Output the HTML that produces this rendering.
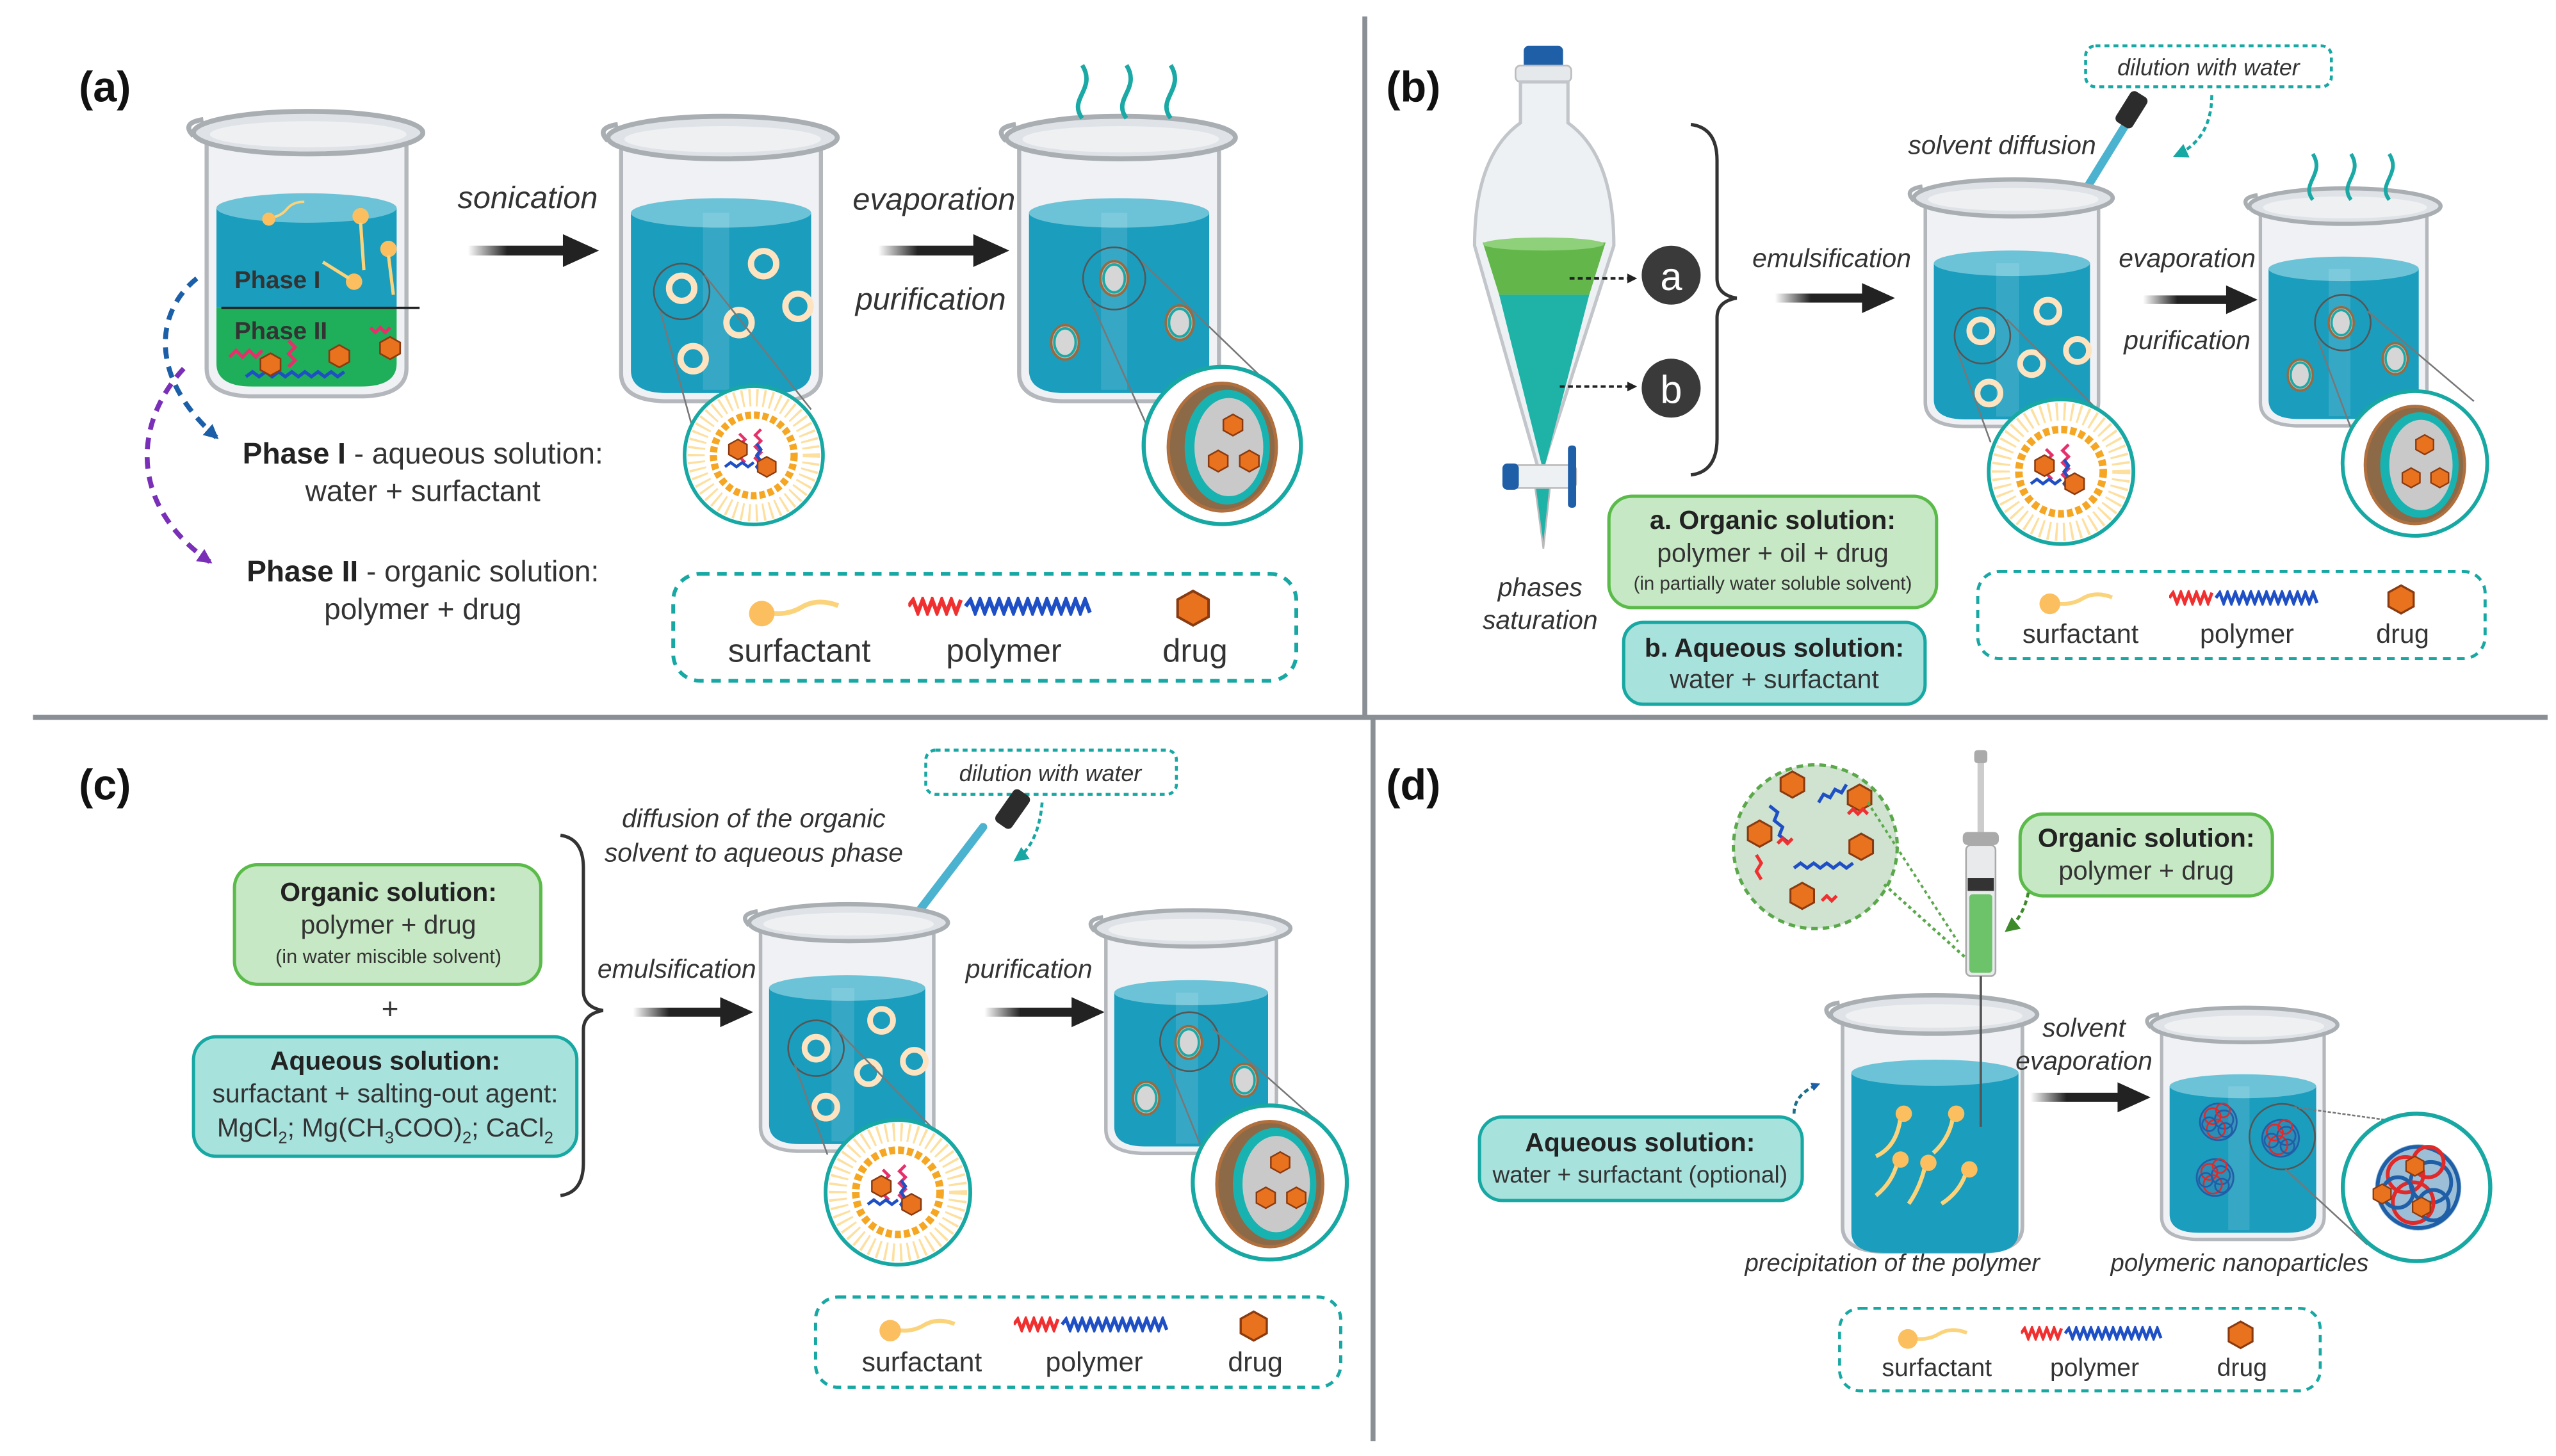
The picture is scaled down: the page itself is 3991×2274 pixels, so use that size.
<!DOCTYPE html>
<html><head><meta charset="utf-8"><style>
html,body{margin:0;padding:0;background:#fff;}
svg{display:block;}
text{font-family:"Liberation Sans",sans-serif;fill:#333;}
.it{font-style:italic;}
.lb{font-weight:bold;font-size:26px;fill:#111;}
</style></head><body>
<svg width="3991" height="2274" viewBox="0 0 1560 889" xmlns="http://www.w3.org/2000/svg">
<defs>
<linearGradient id="arr" x1="0" x2="1"><stop offset="0" stop-color="#222" stop-opacity="0"/><stop offset="0.4" stop-color="#222"/><stop offset="1" stop-color="#222"/></linearGradient>
<symbol id="beakerE" viewBox="0 0 150 180">
<path d="M14 22 L14 160 Q14 176 40 177 L110 177 Q136 176 136 160 L136 22 Z" fill="#e4e8ec" fill-opacity="0.6" stroke="#b4b8bc" stroke-width="2.5"/>
<ellipse cx="76" cy="16" rx="70" ry="13" fill="#dfe3e7" stroke="#a9aeb3" stroke-width="3"/>
<path d="M6 18 Q-2 10 12 8" fill="none" stroke="#a9aeb3" stroke-width="3"/>
<ellipse cx="76" cy="17" rx="60" ry="8" fill="#eef0f2"/>
</symbol>
<symbol id="beaker" viewBox="0 0 150 180">
<use href="#beakerE" width="150" height="180"/>
<path d="M20 62 L20 158 Q20 172 42 172 L108 172 Q130 172 130 158 L130 62 Z" fill="#1b9dbd"/>
<ellipse cx="75" cy="62" rx="55" ry="9" fill="#6cc3d8"/>
<rect x="64" y="62" width="16" height="108" fill="#fff" fill-opacity="0.12"/>
</symbol>
<symbol id="ring" viewBox="0 0 20 20"><circle cx="10" cy="10" r="7" fill="none" stroke="#fde3c0" stroke-width="3.5"/></symbol>
<symbol id="caps" viewBox="0 0 20 24"><ellipse cx="10" cy="12" rx="8.5" ry="10.5" fill="#b7b7b7" stroke="#9a6a3e" stroke-width="1.5"/><ellipse cx="10" cy="12" rx="6.5" ry="8.5" fill="#d6d6d6" stroke="#1aa9a5" stroke-width="1.5"/></symbol>
<symbol id="hex" viewBox="0 0 20 22"><polygon points="10,1 19,6 19,16 10,21 1,16 1,6" fill="#e8721e" stroke="#8a3a10" stroke-width="1.5"/></symbol>
<symbol id="micelle" viewBox="0 0 100 100">
<circle cx="50" cy="50" r="48" fill="#fff" stroke="#17a8a3" stroke-width="2.5"/>
<circle cx="50" cy="50" r="40" fill="none" stroke="#fde0a0" stroke-width="12" stroke-dasharray="1.5 3.5"/>
<circle cx="50" cy="50" r="28" fill="none" stroke="#f5a623" stroke-width="5" stroke-dasharray="4 2"/>
<path d="M40 35 l4 4 -4 4 4 4 -4 4 4 4 M55 32 l-4 4 4 4 -4 4 4 4 -4 4 4 4" fill="none" stroke="#e5306a" stroke-width="2"/>
<path d="M30 58 l4 -3 4 3 4 -3 4 3 4 -3 M52 42 l3 4 -3 4 3 4 -3 4 3 4" fill="none" stroke="#1f4fc4" stroke-width="2"/>
<use href="#hex" x="32" y="38" width="14" height="16"/><use href="#hex" x="52" y="50" width="14" height="16"/>
</symbol>
<symbol id="capsZ" viewBox="0 0 100 100">
<circle cx="50" cy="50" r="48" fill="#fff" stroke="#17a8a3" stroke-width="2.5"/>
<ellipse cx="50" cy="51" rx="33" ry="39" fill="#8c6a48" stroke="#b06f3c" stroke-width="2"/>
<ellipse cx="53" cy="51" rx="26" ry="35" fill="#18b3b0"/>
<ellipse cx="54" cy="51" rx="21" ry="30" fill="#c9c9c9"/>
<use href="#hex" x="50" y="30" width="13" height="15"/><use href="#hex" x="41" y="52" width="13" height="15"/><use href="#hex" x="60" y="52" width="13" height="15"/>
</symbol>
<symbol id="surf" viewBox="0 0 60 24"><path d="M12 12 Q25 15 35 9 T58 8" fill="none" stroke="#fbd37a" stroke-width="3"/><circle cx="10" cy="13" r="8" fill="#fbbf5f"/></symbol>
<symbol id="poly" viewBox="0 0 120 12"><path d="M0 6 l3 -4 3 8 3 -8 3 8 3 -8 3 8 3 -8 3 8 3 -8 3 8 3 -8" fill="none" stroke="#f03030" stroke-width="2.5"/><path d="M36 6 l3 -4 3 8 3 -8 3 8 3 -8 3 8 3 -8 3 8 3 -8 3 8 3 -8 3 8 3 -8 3 8 3 -8 3 8 3 -8 3 8 3 -8 3 8 3 -8 3 8 3 -8 3 8 3 -8 3 8" fill="none" stroke="#1f4fc4" stroke-width="2.5"/></symbol>
<symbol id="steam" viewBox="0 0 90 40"><path d="M15 38 C5 25 25 18 15 2 M45 38 C35 25 55 18 45 2 M75 38 C65 25 85 18 75 2" fill="none" stroke="#1aa9a5" stroke-width="3"/></symbol>
<symbol id="nano" viewBox="0 0 40 40"><circle cx="20" cy="20" r="17" fill="#3a7fb0" fill-opacity="0.5"/><g fill="none" stroke-width="1.5"><circle cx="15" cy="15" r="7" stroke="#e02a2a"/><circle cx="25" cy="18" r="8" stroke="#1f5fa8"/><circle cx="18" cy="26" r="8" stroke="#e02a2a"/><circle cx="26" cy="27" r="6" stroke="#1f5fa8"/><circle cx="20" cy="20" r="16" stroke="#1f5fa8"/><circle cx="12" cy="22" r="6" stroke="#1f5fa8"/><circle cx="24" cy="10" r="6" stroke="#e02a2a"/></g></symbol>
<symbol id="legend" viewBox="0 0 330 60">
<rect x="2" y="2" width="326" height="56" rx="14" fill="none" stroke="#17a8a3" stroke-width="2" stroke-dasharray="5 4"/>
<use href="#surf" x="40" y="12" width="50" height="20"/>
<use href="#poly" x="125" y="14" width="100" height="10"/>
<use href="#hex" x="265" y="10" width="18" height="20"/>
<text x="68" y="48" font-size="17" text-anchor="middle">surfactant</text>
<text x="175" y="48" font-size="17" text-anchor="middle">polymer</text>
<text x="275" y="48" font-size="17" text-anchor="middle">drug</text>
</symbol>
<marker id="ah" viewBox="0 0 10 10" refX="8" refY="5" markerWidth="4" markerHeight="4" orient="auto"><path d="M0 0 L10 5 L0 10 Z" fill="#222"/></marker>
<marker id="ahT" viewBox="0 0 10 10" refX="8" refY="5" markerWidth="5" markerHeight="5" orient="auto"><path d="M0 0 L10 5 L0 10 Z" fill="#17a8a3"/></marker>
<marker id="ahB" viewBox="0 0 10 10" refX="8" refY="5" markerWidth="3" markerHeight="3" orient="auto"><path d="M0 0 L10 5 L0 10 Z" fill="#1b5fa8"/></marker>
<marker id="ahP" viewBox="0 0 10 10" refX="8" refY="5" markerWidth="3" markerHeight="3" orient="auto"><path d="M0 0 L10 5 L0 10 Z" fill="#7a2fb8"/></marker>
<marker id="ahG" viewBox="0 0 10 10" refX="8" refY="5" markerWidth="5" markerHeight="5" orient="auto"><path d="M0 0 L10 5 L0 10 Z" fill="#3d8a2a"/></marker>
<symbol id="bigarrow" viewBox="0 0 80 24"><rect x="0" y="9" width="60" height="6" fill="url(#arr)"/><polygon points="58,2 80,12 58,22" fill="#222"/></symbol>
</defs>

<rect width="1560" height="889" fill="#fff"/>
<line x1="20" y1="438" x2="1555" y2="438" stroke="#8a8f96" stroke-width="3"/>
<line x1="833" y1="10" x2="833" y2="438" stroke="#8a8f96" stroke-width="3"/>
<line x1="838" y1="438" x2="838" y2="880" stroke="#8a8f96" stroke-width="3"/>

<!-- (a) -->
<text x="48" y="62" class="lb">(a)</text>
<use href="#beakerE" x="112" y="65" width="150" height="180"/>
<path d="M132 127 L132 188 L242 188 L242 127 Z" fill="#1b9dbd"/>
<ellipse cx="187" cy="127" rx="55" ry="9" fill="#6cc3d8"/>
<path d="M132 188 L132 222 Q132 236 154 236 L220 236 Q242 236 242 222 L242 188 Z" fill="#1fae5a"/>
<line x1="135" y1="188" x2="256" y2="188" stroke="#222" stroke-width="1.5"/>
<text x="143" y="176" font-size="15" font-weight="bold" fill="#111">Phase I</text>
<text x="143" y="207" font-size="15" font-weight="bold" fill="#111">Phase II</text>
<use href="#surf" x="158" y="124" width="30" height="14" transform="rotate(-20 170 130)"/>
<circle cx="220" cy="132" r="5" fill="#fbbf5f"/><path d="M220 136 L222 165" stroke="#fbd37a" stroke-width="2"/>
<circle cx="237" cy="152" r="5" fill="#fbbf5f"/><path d="M237 156 L240 180" stroke="#fbd37a" stroke-width="2"/>
<circle cx="216" cy="172" r="5" fill="#fbbf5f"/><path d="M213 170 L197 160" stroke="#fbd37a" stroke-width="2"/>
<path d="M140 218 l4 -4 4 4 4 -4 4 4 4 -4 M176 208 l4 4 -4 4 4 4 -4 4 M226 200 l3 3 3 -3 3 3 3 -3" fill="none" stroke="#e5306a" stroke-width="2"/>
<path d="M150 230 l4 -3 4 3 4 -3 4 3 4 -3 4 3 4 -3 4 3 4 -3 4 3 4 -3 4 3 4 -3 4 3 4 -3" fill="none" stroke="#1f4fc4" stroke-width="2"/>
<use href="#hex" x="158" y="215" width="14" height="15"/><use href="#hex" x="200" y="210" width="14" height="15"/><use href="#hex" x="231" y="205" width="14" height="15"/>
<path d="M120 170 C95 190 90 230 132 267" fill="none" stroke="#1b5fa8" stroke-width="3" stroke-dasharray="7 5" marker-end="url(#ahB)"/>
<path d="M112 225 C80 260 80 310 128 343" fill="none" stroke="#7a2fb8" stroke-width="3" stroke-dasharray="7 5" marker-end="url(#ahP)"/>
<text x="258" y="283" font-size="18" text-anchor="middle"><tspan font-weight="bold" fill="#222">Phase I</tspan> - aqueous solution:</text>
<text x="258" y="306" font-size="18" text-anchor="middle">water + surfactant</text>
<text x="258" y="355" font-size="18" text-anchor="middle"><tspan font-weight="bold" fill="#222">Phase II</tspan> - organic solution:</text>
<text x="258" y="378" font-size="18" text-anchor="middle">polymer + drug</text>
<text x="322" y="127" font-size="19" class="it" text-anchor="middle">sonication</text>
<use href="#bigarrow" x="283" y="141" width="85" height="24"/>
<use href="#beaker" x="365" y="68" width="150" height="180"/>
<use href="#ring" x="405" y="165" width="22" height="22"/><use href="#ring" x="455" y="150" width="22" height="22"/><use href="#ring" x="476" y="176" width="22" height="22"/><use href="#ring" x="440" y="186" width="22" height="22"/><use href="#ring" x="412" y="208" width="22" height="22"/>
<circle cx="416" cy="178" r="17" fill="none" stroke="#555" stroke-width="1"/>
<line x1="403" y1="190" x2="425" y2="270" stroke="#777" stroke-width="1"/><line x1="430" y1="168" x2="495" y2="250" stroke="#777" stroke-width="1"/>
<use href="#micelle" x="416" y="234" width="88" height="88"/>
<text x="570" y="128" font-size="19" class="it" text-anchor="middle">evaporation</text>
<text x="568" y="189" font-size="19" class="it" text-anchor="middle">purification</text>
<use href="#bigarrow" x="535" y="141" width="82" height="24"/>
<use href="#beaker" x="608" y="68" width="150" height="180"/>
<use href="#steam" x="645" y="38" width="85" height="36"/>
<use href="#caps" x="670" y="158" width="20" height="24"/><use href="#caps" x="640" y="197" width="20" height="24"/><use href="#caps" x="710" y="185" width="20" height="24"/>
<circle cx="680" cy="170" r="19" fill="none" stroke="#555" stroke-width="1"/>
<line x1="665" y1="182" x2="700" y2="260" stroke="#777" stroke-width="1"/><line x1="697" y1="160" x2="780" y2="240" stroke="#777" stroke-width="1"/>
<use href="#capsZ" x="696" y="222" width="100" height="100"/>
<use href="#legend" x="404" y="348" width="394" height="70"/>

<!-- (b) -->
<text x="846" y="62" class="lb">(b)</text>
<rect x="930" y="28" width="24" height="14" rx="3" fill="#1f5fa8"/>
<rect x="925" y="40" width="34" height="10" rx="3" fill="#e6e9ec" stroke="#bbb"/>
<path d="M928 50 L928 75 Q900 95 900 150 L940 290 L985 150 Q985 95 957 75 L957 50 Z" fill="#eef1f3" stroke="#c2c6ca" stroke-width="2"/>
<path d="M905 148 L980 148 L970 180 L915 180 Z" fill="#62b64a"/>
<ellipse cx="942" cy="149" rx="37" ry="4" fill="#8fd07a"/>
<path d="M915 180 L970 180 L942 288 Z" fill="#1fb3a8"/>
<rect x="922" y="284" width="40" height="14" rx="3" fill="#eef1f3" stroke="#bbb"/>
<rect x="917" y="283" width="10" height="16" rx="3" fill="#1f5fa8"/>
<rect x="957" y="272" width="5" height="38" rx="2" fill="#1f5fa8"/>
<path d="M937 298 L946 298 L942 335 Z" fill="#1fb3a8" stroke="#bbb"/>
<line x1="958" y1="170" x2="998" y2="170" stroke="#222" stroke-width="1.5" stroke-dasharray="3 2" marker-end="url(#ah)"/>
<line x1="952" y1="236" x2="998" y2="236" stroke="#222" stroke-width="1.5" stroke-dasharray="3 2" marker-end="url(#ah)"/>
<circle cx="1020" cy="168" r="18" fill="#3a3a3a"/><text x="1020" y="177" font-size="24" text-anchor="middle" style="fill:#fff">a</text>
<circle cx="1020" cy="237" r="18" fill="#3a3a3a"/><text x="1020" y="246" font-size="24" text-anchor="middle" style="fill:#fff">b</text>
<path d="M1032 76 Q1048 78 1048 98 L1048 170 Q1048 180 1060 182 Q1048 184 1048 194 L1048 268 Q1048 288 1032 290" fill="none" stroke="#333" stroke-width="2"/>
<text x="940" y="364" font-size="16" class="it" text-anchor="middle">phases</text>
<text x="940" y="384" font-size="16" class="it" text-anchor="middle">saturation</text>
<rect x="982" y="303" width="200" height="68" rx="14" fill="#c6e8c4" stroke="#5bbb4a" stroke-width="2"/>
<text x="1082" y="323" font-size="16" font-weight="bold" text-anchor="middle" style="fill:#222">a. Organic solution:</text>
<text x="1082" y="343" font-size="16" text-anchor="middle">polymer + oil + drug</text>
<text x="1082" y="360" font-size="11.5" text-anchor="middle">(in partially water soluble solvent)</text>
<rect x="991" y="380" width="184" height="50" rx="12" fill="#a8e2dd" stroke="#17a8a3" stroke-width="2"/>
<text x="1083" y="401" font-size="16" font-weight="bold" text-anchor="middle" style="fill:#222">b. Aqueous solution:</text>
<text x="1083" y="420" font-size="16" text-anchor="middle">water + surfactant</text>
<text x="1118" y="163" font-size="16" class="it" text-anchor="middle">emulsification</text>
<use href="#bigarrow" x="1070" y="171" width="100" height="22"/>
<text x="1222" y="94" font-size="16" class="it" text-anchor="middle">solvent diffusion</text>
<rect x="1273" y="28" width="150" height="25" rx="6" fill="none" stroke="#17a8a3" stroke-width="1.8" stroke-dasharray="3 2.5"/>
<text x="1348" y="46" font-size="14" class="it" text-anchor="middle">dilution with water</text>
<path d="M1350 58 Q1350 85 1328 95" fill="none" stroke="#17a8a3" stroke-width="1.8" stroke-dasharray="3 2" marker-end="url(#ahT)"/>
<line x1="1300" y1="72" x2="1268" y2="124" stroke="#4bb3cf" stroke-width="5" stroke-linecap="round"/>
<rect x="1295" y="56" width="12" height="22" rx="3" fill="#2c2c2c" transform="rotate(32 1301 67)"/>
<use href="#beaker" x="1163" y="100" width="130" height="170"/>
<use href="#ring" x="1199" y="192" width="20" height="20"/><use href="#ring" x="1240" y="180" width="20" height="20"/><use href="#ring" x="1258" y="204" width="20" height="20"/><use href="#ring" x="1230" y="212" width="20" height="20"/><use href="#ring" x="1204" y="230" width="20" height="20"/>
<circle cx="1210" cy="205" r="17" fill="none" stroke="#555" stroke-width="1"/>
<line x1="1195" y1="215" x2="1215" y2="270" stroke="#777"/><line x1="1225" y1="195" x2="1285" y2="255" stroke="#777"/>
<use href="#micelle" x="1212" y="242" width="92" height="92"/>
<text x="1335" y="163" font-size="16" class="it" text-anchor="middle">evaporation</text>
<text x="1335" y="213" font-size="16" class="it" text-anchor="middle">purification</text>
<use href="#bigarrow" x="1308" y="172" width="70" height="22"/>
<use href="#beaker" x="1368" y="105" width="125" height="165"/>
<use href="#steam" x="1400" y="92" width="70" height="32"/>
<use href="#caps" x="1420" y="186" width="18" height="22"/><use href="#caps" x="1395" y="218" width="18" height="22"/><use href="#caps" x="1453" y="208" width="18" height="22"/>
<circle cx="1430" cy="197" r="17" fill="none" stroke="#555"/>
<line x1="1415" y1="208" x2="1440" y2="275" stroke="#777"/><line x1="1445" y1="190" x2="1510" y2="245" stroke="#777"/>
<use href="#capsZ" x="1428" y="237" width="92" height="92"/>
<use href="#legend" x="1197" y="347" width="330" height="57"/>

<!-- (c) -->
<text x="48" y="488" class="lb">(c)</text>
<rect x="143" y="528" width="187" height="73" rx="14" fill="#c6e8c4" stroke="#5bbb4a" stroke-width="2"/>
<text x="237" y="550" font-size="16" font-weight="bold" text-anchor="middle" style="fill:#222">Organic solution:</text>
<text x="237" y="570" font-size="16" text-anchor="middle">polymer + drug</text>
<text x="237" y="588" font-size="12" text-anchor="middle">(in water miscible solvent)</text>
<text x="238" y="622" font-size="18" text-anchor="middle">+</text>
<rect x="118" y="633" width="234" height="73" rx="14" fill="#a8e2dd" stroke="#17a8a3" stroke-width="2"/>
<text x="235" y="653" font-size="16" font-weight="bold" text-anchor="middle" style="fill:#222">Aqueous solution:</text>
<text x="235" y="673" font-size="16" text-anchor="middle">surfactant + salting-out agent:</text>
<text x="235" y="694" font-size="16" text-anchor="middle">MgCl<tspan font-size="10" dy="4">2</tspan><tspan dy="-4">; Mg(CH</tspan><tspan font-size="10" dy="4">3</tspan><tspan dy="-4">COO)</tspan><tspan font-size="10" dy="4">2</tspan><tspan dy="-4">; CaCl</tspan><tspan font-size="10" dy="4">2</tspan></text>
<path d="M342 510 Q356 512 356 530 L356 605 Q356 615 368 617 Q356 619 356 629 L356 710 Q356 728 342 730" fill="none" stroke="#333" stroke-width="2"/>
<text x="413" y="597" font-size="16" class="it" text-anchor="middle">emulsification</text>
<use href="#bigarrow" x="383" y="607" width="80" height="22"/>
<text x="460" y="505" font-size="16" class="it" text-anchor="middle">diffusion of the organic</text>
<text x="460" y="526" font-size="16" class="it" text-anchor="middle">solvent to aqueous phase</text>
<rect x="565" y="458" width="153" height="27" rx="6" fill="none" stroke="#17a8a3" stroke-width="1.8" stroke-dasharray="3 2.5"/>
<text x="641" y="477" font-size="14" class="it" text-anchor="middle">dilution with water</text>
<path d="M636 490 Q634 515 620 525" fill="none" stroke="#17a8a3" stroke-width="1.8" stroke-dasharray="3 2" marker-end="url(#ahT)"/>
<line x1="600" y1="505" x2="558" y2="560" stroke="#4bb3cf" stroke-width="5" stroke-linecap="round"/>
<rect x="612" y="482" width="12" height="24" rx="3" fill="#2c2c2c" transform="rotate(35 618 494)"/>
<use href="#beaker" x="452" y="540" width="130" height="175"/>
<use href="#ring" x="488" y="630" width="20" height="20"/><use href="#ring" x="528" y="613" width="20" height="20"/><use href="#ring" x="548" y="638" width="20" height="20"/><use href="#ring" x="520" y="645" width="20" height="20"/><use href="#ring" x="494" y="666" width="20" height="20"/>
<circle cx="498" cy="640" r="17" fill="none" stroke="#555"/>
<line x1="485" y1="650" x2="505" y2="705" stroke="#777"/><line x1="512" y1="630" x2="575" y2="695" stroke="#777"/>
<use href="#micelle" x="502" y="682" width="92" height="92"/>
<text x="628" y="597" font-size="16" class="it" text-anchor="middle">purification</text>
<use href="#bigarrow" x="600" y="607" width="75" height="22"/>
<use href="#beaker" x="663" y="545" width="128" height="170"/>
<use href="#caps" x="716" y="625" width="19" height="23"/><use href="#caps" x="690" y="659" width="19" height="23"/><use href="#caps" x="750" y="648" width="19" height="23"/>
<circle cx="726" cy="636" r="18" fill="none" stroke="#555"/>
<line x1="712" y1="648" x2="735" y2="705" stroke="#777"/><line x1="740" y1="628" x2="810" y2="690" stroke="#777"/>
<use href="#capsZ" x="726" y="673" width="98" height="98"/>
<use href="#legend" x="488" y="790" width="340" height="59"/>

<!-- (d) -->
<text x="846" y="488" class="lb">(d)</text>
<circle cx="1108" cy="517" r="50" fill="#cfe3d0" stroke="#5aa84a" stroke-width="2" stroke-dasharray="4 3"/>
<use href="#hex" x="1086" y="470" width="16" height="18"/><use href="#hex" x="1127" y="478" width="16" height="18"/><use href="#hex" x="1066" y="500" width="16" height="18"/><use href="#hex" x="1128" y="508" width="16" height="18"/><use href="#hex" x="1092" y="538" width="16" height="18"/>
<path d="M1080 492 l5 4 -2 5 5 4 -2 5 5 4 M1110 490 l3 -5 4 2 3 -5 4 2 3 -5" fill="none" stroke="#1f4fc4" stroke-width="2"/>
<path d="M1095 530 l4 -3 4 3 4 -3 4 3 4 -3 4 3 4 -3 4 3 4 -3" fill="none" stroke="#1f4fc4" stroke-width="2"/>
<path d="M1072 522 l3 5 -3 5 3 5 M1128 497 l3 -3 3 3 3 -3 3 3 M1085 515 l3 -3 3 3 3 -3 M1112 550 l3 -3 3 3 3 -3" fill="none" stroke="#f03030" stroke-width="2"/>
<line x1="1150" y1="540" x2="1200" y2="585" stroke="#5aa84a" stroke-width="1.8" stroke-dasharray="2 2"/>
<line x1="1140" y1="490" x2="1195" y2="575" stroke="#5aa84a" stroke-width="1.5" stroke-dasharray="2 2"/>
<rect x="1205" y="458" width="8" height="8" rx="2" fill="#aaa"/>
<rect x="1207" y="466" width="4" height="45" fill="#ccc"/>
<rect x="1198" y="508" width="22" height="8" rx="3" fill="#aaa"/>
<rect x="1200" y="516" width="18" height="80" rx="3" fill="#e8eaec" stroke="#aaa"/>
<rect x="1201" y="536" width="16" height="8" fill="#333"/>
<rect x="1202" y="546" width="14" height="48" rx="2" fill="#6cc36a"/>
<rect x="1233" y="497" width="154" height="50" rx="14" fill="#c6e8c4" stroke="#5bbb4a" stroke-width="2"/>
<text x="1310" y="517" font-size="16" font-weight="bold" text-anchor="middle" style="fill:#222">Organic solution:</text>
<text x="1310" y="537" font-size="16" text-anchor="middle">polymer + drug</text>
<path d="M1238 545 Q1235 560 1225 568" fill="none" stroke="#3d8a2a" stroke-width="1.8" stroke-dasharray="3 2" marker-end="url(#ahG)"/>
<use href="#beakerE" x="1112" y="597" width="135" height="178"/>
<path d="M1130 655 L1130 752 Q1130 765 1150 765 L1212 765 Q1232 765 1232 752 L1232 655 Z" fill="#1b9dbd"/>
<ellipse cx="1181" cy="655" rx="51" ry="8" fill="#6cc3d8"/>
<line x1="1209" y1="596" x2="1209" y2="688" stroke="#555" stroke-width="1.5"/>
<g fill="none" stroke="#fbd37a" stroke-width="2.5"><path d="M1160 682 Q1158 700 1145 706"/><path d="M1192 682 Q1190 695 1180 704"/><path d="M1158 710 Q1155 722 1145 730"/><path d="M1175 712 Q1172 725 1165 735"/><path d="M1200 716 Q1196 728 1185 735"/></g>
<g fill="#fbbf5f"><circle cx="1162" cy="680" r="5"/><circle cx="1194" cy="680" r="5"/><circle cx="1160" cy="708" r="5"/><circle cx="1177" cy="710" r="5"/><circle cx="1202" cy="714" r="5"/></g>
<rect x="903" y="682" width="197" height="51" rx="14" fill="#a8e2dd" stroke="#17a8a3" stroke-width="2"/>
<text x="1001" y="703" font-size="16" font-weight="bold" text-anchor="middle" style="fill:#222">Aqueous solution:</text>
<text x="1001" y="722" font-size="14.5" text-anchor="middle">water + surfactant (optional)</text>
<path d="M1095 680 Q1095 668 1110 662" fill="none" stroke="#1b6f8a" stroke-width="1.8" stroke-dasharray="3 2" marker-end="url(#ahB)"/>
<text x="1272" y="633" font-size="16" class="it" text-anchor="middle">solvent</text>
<text x="1272" y="653" font-size="16" class="it" text-anchor="middle">evaporation</text>
<use href="#bigarrow" x="1237" y="659" width="78" height="22"/>
<use href="#beaker" x="1308" y="597" width="122" height="178"/>
<use href="#nano" x="1340" y="670" width="28" height="30"/><use href="#nano" x="1338" y="704" width="28" height="30"/><use href="#nano" x="1378" y="680" width="28" height="30"/>
<circle cx="1393" cy="694" r="20" fill="none" stroke="#555"/>
<line x1="1400" y1="676" x2="1465" y2="685" stroke="#777" stroke-dasharray="2 1"/><line x1="1395" y1="714" x2="1445" y2="760" stroke="#777"/>
<circle cx="1475" cy="725" r="45" fill="#fff" stroke="#17a8a3" stroke-width="2.5"/>
<use href="#nano" x="1445" y="693" width="62" height="64"/>
<use href="#hex" x="1468" y="705" width="12" height="14"/><use href="#hex" x="1448" y="722" width="12" height="14"/><use href="#hex" x="1472" y="730" width="12" height="14"/>
<text x="1155" y="776" font-size="15" class="it" text-anchor="middle">precipitation of the polymer</text>
<text x="1367" y="776" font-size="15" class="it" text-anchor="middle">polymeric nanoparticles</text>
<use href="#legend" x="1112" y="797" width="315" height="54"/>
</svg>
</body></html>
